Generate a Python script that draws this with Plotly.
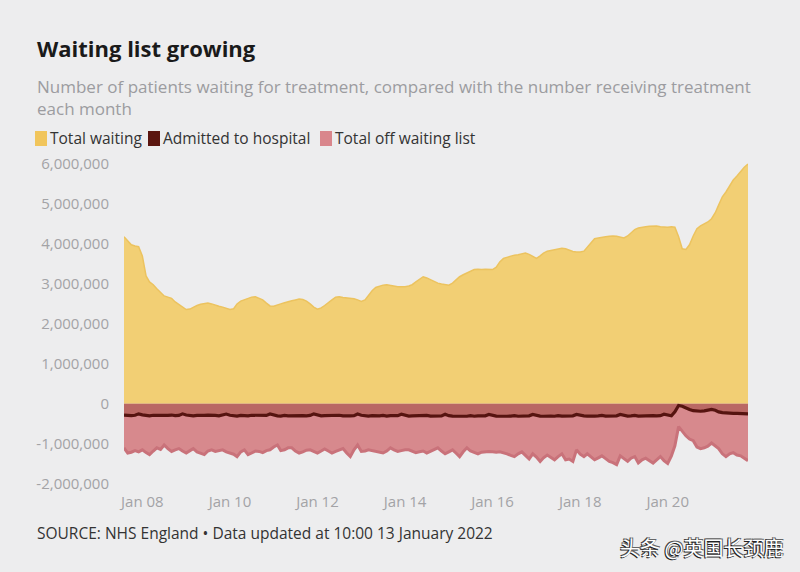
import pandas as pd
import plotly.graph_objects as go

# monthly, Aug 2007 .. Nov 2021 (172 months)
months = pd.date_range("2007-08-01", "2021-11-01", freq="MS")

# total waiting, millions
total_waiting = [
    4.18, 4.08, 3.98, 3.95, 3.93,
    3.70, 3.20, 3.05, 2.98, 2.88, 2.78, 2.70, 2.67, 2.64, 2.55, 2.48, 2.42,
    2.36, 2.37, 2.42, 2.46, 2.49, 2.51, 2.52, 2.50, 2.46, 2.44, 2.42, 2.39,
    2.36, 2.38, 2.50, 2.57, 2.60, 2.64, 2.67, 2.68, 2.63, 2.60, 2.52, 2.45,
    2.44, 2.48, 2.50, 2.53, 2.56, 2.58, 2.60, 2.62, 2.61, 2.57, 2.50, 2.42,
    2.37, 2.40, 2.46, 2.52, 2.60, 2.67, 2.68, 2.66, 2.65, 2.64, 2.63, 2.60,
    2.56, 2.60, 2.72, 2.83, 2.91, 2.95, 2.97, 2.98, 2.96, 2.95, 2.93, 2.93,
    2.93, 2.95, 2.98, 3.05, 3.12, 3.18, 3.15, 3.10, 3.06, 3.02, 3.00, 2.98,
    2.97, 3.02, 3.10, 3.18, 3.23, 3.28, 3.33, 3.36, 3.37, 3.36, 3.37, 3.36,
    3.36, 3.42, 3.55, 3.64, 3.67, 3.70, 3.72, 3.73, 3.75, 3.77, 3.74, 3.69,
    3.64, 3.70, 3.77, 3.82, 3.84, 3.86, 3.88, 3.89, 3.88, 3.85, 3.81, 3.80,
    3.80, 3.82, 3.92, 4.05, 4.13, 4.15, 4.17, 4.18, 4.19, 4.20, 4.19, 4.17,
    4.15, 4.20, 4.27, 4.36, 4.40, 4.42, 4.43, 4.44, 4.45, 4.45, 4.43, 4.42,
    4.42, 4.43, 4.42, 4.18, 3.88, 3.86, 3.98, 4.20, 4.38, 4.45, 4.50, 4.55,
    4.63, 4.78, 4.97, 5.18, 5.30, 5.45, 5.60, 5.70, 5.82, 5.92, 6.00,
]

# admitted to hospital, thousands (shown below zero)
admitted = [
    -280, -290, -295, -285, -250,
    -275, -290, -300, -285, -290, -295, -285, -290, -280, -295, -290, -250,
    -280, -295, -300, -290, -295, -290, -280, -295, -290, -300, -285, -255,
    -285, -300, -305, -290, -295, -300, -285, -290, -300, -295, -290, -255,
    -280, -300, -305, -290, -300, -295, -285, -300, -295, -300, -290, -250,
    -285, -300, -295, -290, -305, -295, -285, -300, -290, -300, -295, -255,
    -285, -300, -305, -295, -300, -300, -290, -305, -295, -300, -295, -260,
    -290, -305, -300, -295, -310, -300, -290, -305, -300, -305, -300, -260,
    -295, -305, -310, -300, -305, -310, -295, -310, -300, -305, -300, -265,
    -295, -305, -310, -300, -310, -305, -295, -310, -305, -310, -300, -265,
    -290, -305, -310, -300, -305, -310, -295, -305, -300, -305, -300, -265,
    -290, -300, -305, -295, -305, -300, -290, -305, -300, -305, -300, -265,
    -290, -305, -300, -290, -305, -300, -290, -300, -295, -300, -295, -260,
    -290, -300, -200, -40, -60, -110, -140, -170, -180, -185, -175, -160,
    -140, -160, -200, -220, -230, -235, -240, -240, -245, -245, -250,
]

# total off waiting list, thousands (shown below zero)
off_list = [
    -1100, -1230, -1210, -1170, -1200,
    -1150, -1220, -1270, -1180, -1100, -1140, -1030, -1120, -1190, -1150, -1120, -1180,
    -1230, -1170, -1120, -1200, -1240, -1270, -1180, -1150, -1190, -1170, -1150, -1200,
    -1230, -1260, -1320, -1200, -1150, -1270, -1230, -1180, -1190, -1220, -1170, -1150,
    -1080, -1030, -1170, -1150, -1100, -1100, -1180, -1230, -1200, -1160, -1150, -1190,
    -1230, -1180, -1130, -1180, -1230, -1190, -1150, -1120, -1230, -1320, -1150, -1030,
    -1190, -1180, -1150, -1170, -1200, -1220, -1230, -1180, -1100, -1150, -1190, -1170,
    -1150, -1150, -1190, -1220, -1200, -1180, -1230, -1180, -1150, -1100, -1180, -1250,
    -1200, -1150, -1230, -1320, -1200, -1100, -1180, -1220, -1250, -1210, -1200, -1190,
    -1200, -1210, -1200, -1220, -1250, -1290, -1320, -1250, -1200, -1290, -1380, -1250,
    -1330, -1440, -1350, -1280, -1340, -1400, -1320, -1250, -1400, -1380, -1440, -1150,
    -1260, -1320, -1250, -1330, -1400, -1350, -1300, -1370, -1440, -1470, -1520, -1300,
    -1380, -1440, -1360, -1320, -1480, -1400, -1360, -1420, -1480, -1400, -1320, -1420,
    -1490, -1300, -1050, -570, -680, -800, -880, -920, -1080, -1120, -1100, -1060,
    -980, -1050, -1120, -1250, -1320, -1250, -1220, -1280, -1300, -1360, -1420,
]

y_ticks = [-2e6, -1e6, 0, 1e6, 2e6, 3e6, 4e6, 5e6, 6e6]
y_labels = ["-2,000,000", "-1,000,000", "0", "1,000,000", "2,000,000",
            "3,000,000", "4,000,000", "5,000,000", "6,000,000"]
x_ticks = ["2008-01-01", "2010-01-01", "2012-01-01", "2014-01-01",
           "2016-01-01", "2018-01-01", "2020-01-01"]
x_labels = ["Jan 08", "Jan 10", "Jan 12", "Jan 14", "Jan 16", "Jan 18", "Jan 20"]

legend_names = ["Total waiting", "Admitted to hospital", "Total off waiting list"]
legend_cols = ["#f1c55b", "#5b1610", "#d9868c"]

BG = "#ededee"
FONT = "Open Sans"

# plot area in pixels: x 124..748, y 160..485
def px(x):
    return (x - 124) / 624

def py(y):
    return (485 - y) / 325

fig = go.Figure()

fig.add_trace(go.Scatter(
    x=months, y=[v * 1e6 for v in total_waiting],
    mode="lines", fill="tozeroy",
    line=dict(color="#ecc35f", width=1.5),
    fillcolor="#f2cf74",
    name=legend_names[0], hoverinfo="skip",
))

fig.add_trace(go.Scatter(
    x=months, y=[v * 1e3 for v in off_list],
    mode="lines", fill="tozeroy",
    line=dict(color="#c9727a", width=3),
    fillcolor="#d7898d",
    name=legend_names[2], hoverinfo="skip",
))

fig.add_trace(go.Scatter(
    x=months, y=[v * 1e3 for v in admitted],
    mode="lines", fill="tozeroy",
    line=dict(color="#561410", width=3.2),
    fillcolor="rgba(125,35,15,0.32)",
    name=legend_names[1], hoverinfo="skip",
))

fig.update_layout(
    width=800, height=572,
    paper_bgcolor=BG, plot_bgcolor=BG,
    margin=dict(l=124, r=52, t=160, b=87),
    showlegend=False,
    font=dict(family=FONT, color="#333333"),
)

fig.update_xaxes(
    range=[months[0], months[-1]],
    tickvals=x_ticks, ticktext=x_labels,
    showgrid=False, zeroline=False, showline=False, ticks="",
    ticklabelstandoff=6,
    tickfont=dict(size=15, color="#a3a3a6"),
)
fig.update_yaxes(
    range=[-2.03e6, 6.1e6],
    tickvals=y_ticks, ticktext=y_labels,
    showgrid=False, zeroline=False, showline=False, ticks="",
    ticklabelstandoff=14,
    tickfont=dict(size=15, color="#a3a3a6"),
)

# title block
fig.add_annotation(text="<b>Waiting list growing</b>", xref="paper", yref="paper",
                   x=px(35), y=py(48), xanchor="left", yanchor="middle",
                   showarrow=False, font=dict(size=22, color="#1a1a1a", family=FONT))
fig.add_annotation(text="Number of patients waiting for treatment, compared with the number receiving treatment<br>each month",
                   xref="paper", yref="paper", x=px(35), y=py(97.5),
                   xanchor="left", yanchor="middle", align="left", showarrow=False,
                   font=dict(size=17, color="#9c9ca0", family=FONT))

# legend
lx = [35, 148, 320]
for i, name in enumerate(legend_names):
    fig.add_shape(type="rect", xref="paper", yref="paper",
                  x0=px(lx[i]), x1=px(lx[i] + 12), y0=py(146), y1=py(131),
                  fillcolor=legend_cols[i], line=dict(width=0), layer="above")
    fig.add_annotation(text=name, xref="paper", yref="paper",
                       x=px(lx[i] + 13), y=py(138),
                       xanchor="left", yanchor="middle", showarrow=False,
                       font=dict(size=15.5, color="#333333", family=FONT))

# source
fig.add_annotation(text="SOURCE: NHS England • Data updated at 10:00 13 January 2022",
                   xref="paper", yref="paper", x=px(35), y=py(533),
                   xanchor="left", yanchor="middle", showarrow=False,
                   font=dict(size=15.5, color="#333333", family=FONT))

# watermark
fig.add_annotation(text="头条 @英国长颈鹿", xref="paper", yref="paper",
                   x=px(785), y=py(547), xanchor="right", yanchor="middle",
                   showarrow=False,
                   font=dict(size=20, color="#ffffff", family="Noto Sans CJK SC",
                             shadow="-1px 1px 0px #222, 1px -1px 0px #666, -1px -1px 0px #444"))

fig.write_html("out.html", config={"displayModeBar": False},
               post_script="document.body.style.margin='0';"
                           "document.body.style.background='#ededee';")
